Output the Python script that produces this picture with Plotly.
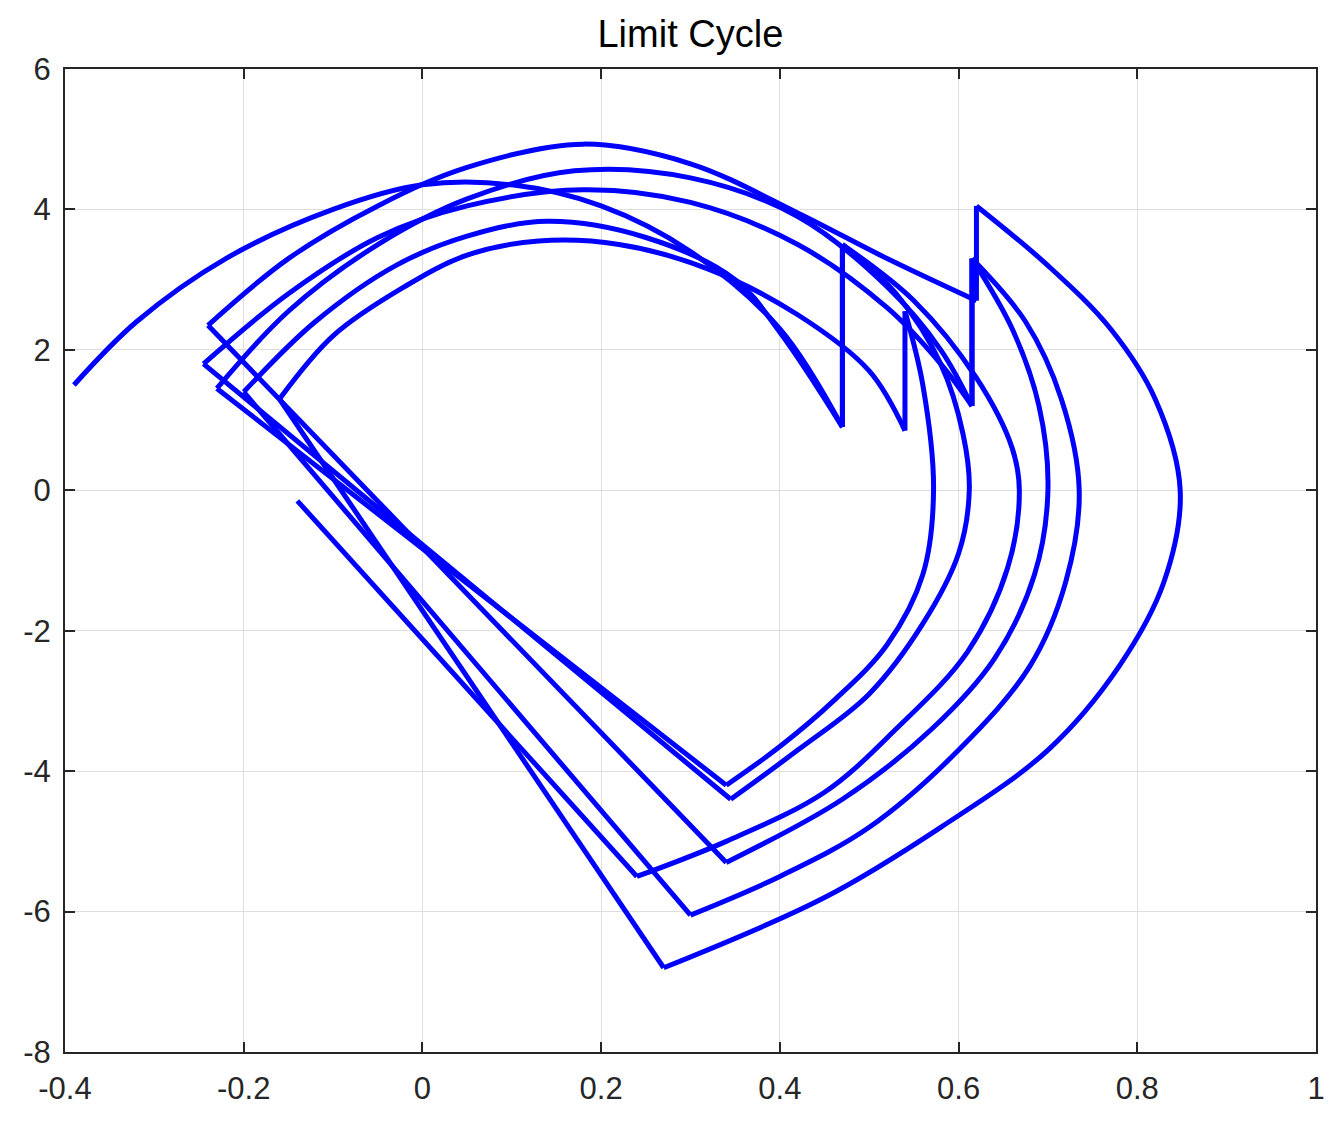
import plotly.graph_objects as go

# Smooth arc pieces (x, y), in drawing order
top1_x = [-0.39, -0.32, -0.22, -0.1, 0.0, 0.1, 0.2, 0.3, 0.4, 0.47]
top1_y = [1.5, 2.4, 3.3, 4.0, 4.35, 4.35, 4.05, 3.4, 2.3, 0.9]
right1_x = [0.47, 0.53, 0.58, 0.605, 0.612, 0.6, 0.56, 0.5, 0.42, 0.345]
right1_y = [3.5, 2.8, 1.8, 0.8, 0.0, -0.9, -1.9, -2.9, -3.7, -4.4]
top2_x = [-0.245, -0.15, -0.05, 0.05, 0.18, 0.3, 0.42, 0.52, 0.58, 0.615]
top2_y = [1.8, 2.8, 3.6, 4.05, 4.28, 4.1, 3.5, 2.6, 1.8, 1.2]
right2_x = [0.615, 0.66, 0.69, 0.70, 0.685, 0.64, 0.57, 0.47, 0.34]
right2_y = [3.3, 2.3, 1.2, 0.0, -1.2, -2.4, -3.4, -4.4, -5.3]
top3_x = [-0.24, -0.15, -0.05, 0.05, 0.18, 0.3, 0.42, 0.52, 0.62]
top3_y = [2.35, 3.3, 4.05, 4.6, 4.93, 4.65, 3.95, 3.3, 2.7]
right3_x = [0.62, 0.7, 0.77, 0.82, 0.848, 0.83, 0.78, 0.7, 0.58, 0.45, 0.27]
right3_y = [4.05, 3.2, 2.3, 1.3, 0.0, -1.3, -2.5, -3.7, -4.8, -5.8, -6.8]
top4_x = [-0.16, -0.1, -0.02, 0.05, 0.13, 0.22, 0.32, 0.42, 0.5, 0.54]
top4_y = [1.3, 2.2, 2.9, 3.35, 3.55, 3.5, 3.15, 2.5, 1.7, 0.85]
right4_x = [0.54, 0.56, 0.572, 0.56, 0.52, 0.46, 0.4, 0.34]
right4_y = [2.55, 1.5, 0.0, -1.2, -2.2, -3.0, -3.65, -4.2]
top5_x = [-0.23, -0.15, -0.05, 0.05, 0.17, 0.3, 0.42, 0.52, 0.58, 0.615]
top5_y = [1.45, 2.55, 3.5, 4.15, 4.55, 4.45, 3.9, 2.9, 2.0, 1.2]
right5_x = [0.615, 0.675, 0.715, 0.735, 0.72, 0.68, 0.6, 0.5, 0.4, 0.3]
right5_y = [3.3, 2.4, 1.3, 0.0, -1.3, -2.5, -3.7, -4.8, -5.5, -6.05]
top6_x = [-0.2, -0.12, -0.03, 0.05, 0.14, 0.25, 0.35, 0.4, 0.47]
top6_y = [1.4, 2.4, 3.2, 3.62, 3.83, 3.6, 3.0, 2.25, 0.9]
right6_x = [0.47, 0.55, 0.62, 0.66, 0.668, 0.655, 0.61, 0.53, 0.45, 0.34, 0.24]
right6_y = [3.5, 2.7, 1.6, 0.6, 0.0, -1.1, -2.3, -3.4, -4.3, -5.0, -5.5]

# Straight pieces: jumps and return lines (x, y)
jump1_x = [0.47, 0.47]; jump1_y = [0.9, 3.5]
line1_x = [0.345, -0.245]; line1_y = [-4.4, 1.8]
jump2_x = [0.615, 0.615]; jump2_y = [1.2, 3.3]
line2_x = [0.34, -0.24]; line2_y = [-5.3, 2.35]
jump3_x = [0.62, 0.62]; jump3_y = [2.7, 4.05]
line3_x = [0.27, -0.16]; line3_y = [-6.8, 1.3]
jump4_x = [0.54, 0.54]; jump4_y = [0.85, 2.55]
line4_x = [0.34, -0.23]; line4_y = [-4.2, 1.45]
jump5_x = [0.615, 0.615]; jump5_y = [1.2, 3.3]
line5_x = [0.3, -0.2]; line5_y = [-6.05, 1.4]
jump6_x = [0.47, 0.47]; jump6_y = [0.9, 3.5]
line6_x = [0.24, -0.14]; line6_y = [-5.5, -0.15]

x_ticks = [-0.4, -0.2, 0, 0.2, 0.4, 0.6, 0.8, 1]
x_labels = ["-0.4", "-0.2", "0", "0.2", "0.4", "0.6", "0.8", "1"]
y_ticks = [-8, -6, -4, -2, 0, 2, 4, 6]
y_labels = ["-8", "-6", "-4", "-2", "0", "2", "4", "6"]

arcs = [(top1_x, top1_y), (right1_x, right1_y), (top2_x, top2_y), (right2_x, right2_y),
        (top3_x, top3_y), (right3_x, right3_y), (top4_x, top4_y), (right4_x, right4_y),
        (top5_x, top5_y), (right5_x, right5_y), (top6_x, top6_y), (right6_x, right6_y)]
straights = [(jump1_x, jump1_y), (line1_x, line1_y), (jump2_x, jump2_y), (line2_x, line2_y),
             (jump3_x, jump3_y), (line3_x, line3_y), (jump4_x, jump4_y), (line4_x, line4_y),
             (jump5_x, jump5_y), (line5_x, line5_y), (jump6_x, jump6_y), (line6_x, line6_y)]

fig = go.Figure()
for xs, ys in arcs:
    fig.add_trace(go.Scatter(x=xs, y=ys, mode="lines",
                             line=dict(color="#0000ff", width=5, shape="spline", smoothing=1.0)))
for xs, ys in straights:
    fig.add_trace(go.Scatter(x=xs, y=ys, mode="lines", line=dict(color="#0000ff", width=5)))

axis_common = dict(showline=True, linecolor="#262626", linewidth=2, mirror="ticks",
                   ticks="inside", ticklen=10, tickcolor="#262626", tickwidth=1.5,
                   showgrid=True, gridcolor="#dedede", gridwidth=1, zeroline=False)
fig.update_layout(
    width=1338, height=1133, showlegend=False,
    plot_bgcolor="white", paper_bgcolor="white",
    margin=dict(l=57, r=30, t=61, b=89),
    title=dict(text="Limit Cycle", x=0.51, xanchor="center", y=0.977, yanchor="middle",
               font=dict(family="Liberation Sans, Arial", size=38, color="black")),
    xaxis=dict(range=[-0.4, 1], tickvals=x_ticks, ticktext=x_labels, ticklabelstandoff=8,
               tickfont=dict(family="Liberation Sans, Arial", size=31, color="#262626"),
               **axis_common),
    yaxis=dict(range=[-8, 6], tickvals=y_ticks, ticktext=y_labels, ticklabelstandoff=6,
               tickfont=dict(family="Liberation Sans, Arial", size=31, color="#262626"),
               **axis_common),
)
fig.write_html("out.html")
